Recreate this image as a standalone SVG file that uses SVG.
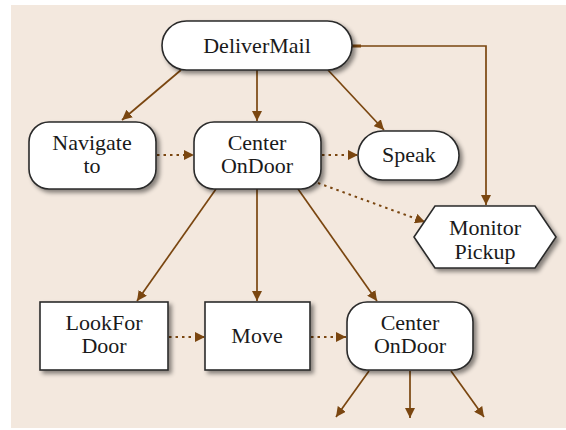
<svg xmlns="http://www.w3.org/2000/svg" width="566" height="430" viewBox="0 0 566 430">
<style>
.node{fill:#fff;stroke:#2a2a2a;stroke-width:1.6;filter:url(#sh)}
.t{font-family:'Liberation Serif',serif;font-size:22px;fill:#1a1a1a;text-anchor:middle}
.c{fill:none;stroke:#7a4610;stroke-width:1.7}
.d{fill:none;stroke:#7a4610;stroke-width:2;stroke-dasharray:2.5 4}
</style>
<defs>
<filter id="sh" x="-20%" y="-20%" width="140%" height="150%">
<feDropShadow dx="3" dy="3" stdDeviation="2" flood-color="#000" flood-opacity="0.45"/>
</filter>
<marker id="a" viewBox="0 0 10 10" refX="10" refY="5" markerWidth="10" markerHeight="10" markerUnits="userSpaceOnUse" orient="auto">
<path d="M0,0 L10,5 L0,10 z" fill="#7a4610"/>
</marker>
</defs>
<rect x="11" y="5" width="555" height="423" fill="#f3e8de"/>
<g id="connectors">
<line class="c" x1="181" y1="70" x2="122" y2="120" marker-end="url(#a)"/>
<line class="c" x1="257" y1="70" x2="257" y2="121" marker-end="url(#a)"/>
<line class="c" x1="328" y1="70" x2="384" y2="130" marker-end="url(#a)"/>
<polyline class="c" points="352,46 486,46 486,205" marker-end="url(#a)"/>
<line class="c" x1="352" y1="46" x2="361" y2="46" style="stroke-width:3"/>
<line class="d" x1="157" y1="155" x2="194" y2="155" marker-end="url(#a)"/>
<line class="d" x1="322" y1="155" x2="358" y2="155" marker-end="url(#a)"/>
<line class="d" x1="318" y1="183" x2="425" y2="222" marker-end="url(#a)"/>
<line class="c" x1="216" y1="189" x2="137" y2="301" marker-end="url(#a)"/>
<line class="c" x1="257" y1="189" x2="257" y2="301" marker-end="url(#a)"/>
<line class="c" x1="298" y1="189" x2="377" y2="301" marker-end="url(#a)"/>
<line class="d" x1="169" y1="337" x2="205" y2="337" marker-end="url(#a)"/>
<line class="d" x1="311" y1="337" x2="346" y2="337" marker-end="url(#a)"/>
<line class="c" x1="369" y1="371" x2="336" y2="417" marker-end="url(#a)"/>
<line class="c" x1="410" y1="371" x2="410" y2="418" marker-end="url(#a)"/>
<line class="c" x1="451" y1="371" x2="484" y2="417" marker-end="url(#a)"/>
</g>
<g id="deliverMail">
<rect class="node" x="162" y="21" width="190" height="49" rx="24.5"/>
<text class="t" x="257" y="53">DeliverMail</text>
</g>
<g id="navigateTo">
<rect class="node" x="29" y="122" width="127" height="67" rx="20"/>
<text class="t" x="92" y="150">Navigate</text>
<text class="t" x="92" y="173">to</text>
</g>
<g id="centerOnDoorTop">
<rect class="node" x="194" y="122" width="127" height="67" rx="20"/>
<text class="t" x="257" y="150">Center</text>
<text class="t" x="257" y="173">OnDoor</text>
</g>
<g id="speak">
<rect class="node" x="358" y="131" width="101" height="49" rx="24.5"/>
<text class="t" x="409" y="162">Speak</text>
</g>
<g id="monitorPickup">
<polygon class="node" points="435,206 535,206 556,237 535,268 435,268 414,237"/>
<text class="t" x="485" y="235">Monitor</text>
<text class="t" x="485" y="259">Pickup</text>
</g>
<g id="lookForDoor">
<rect class="node" x="40" y="302" width="128" height="68"/>
<text class="t" x="104" y="330">LookFor</text>
<text class="t" x="104" y="353">Door</text>
</g>
<g id="move">
<rect class="node" x="205" y="302" width="105" height="68"/>
<text class="t" x="257" y="343">Move</text>
</g>
<g id="centerOnDoorBottom">
<rect class="node" x="347" y="302" width="126" height="68" rx="20"/>
<text class="t" x="410" y="330">Center</text>
<text class="t" x="410" y="353">OnDoor</text>
</g>
</svg>
